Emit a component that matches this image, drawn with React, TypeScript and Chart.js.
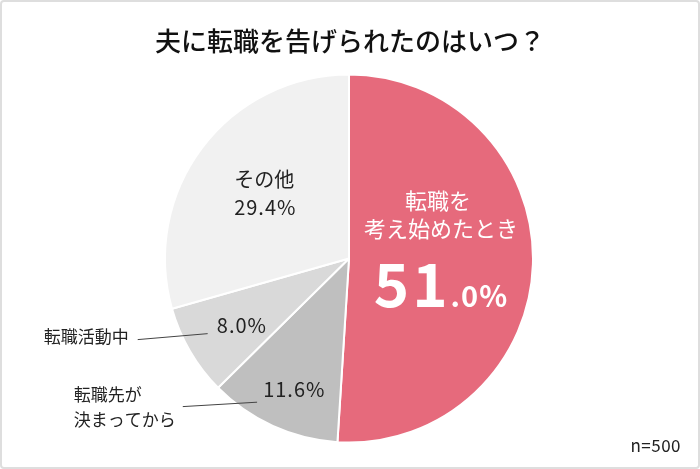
import React, { useEffect, useRef } from "react";
import { Chart, registerables } from "chart.js";

Chart.register(...registerables);

const TITLE = "夫に転職を告げられたのはいつ？";
const CATEGORIES = ["転職を考え始めたとき", "転職先が決まってから", "転職活動中", "その他"];
const VALUES = [51.0, 11.6, 8.0, 29.4];
const COLORS = ["#E66A7C", "#BFBFBF", "#D9D9D9", "#F1F1F1"];
const SAMPLE_NOTE = "n=500";

const FONT = '"Noto Sans CJK JP", "Noto Sans", sans-serif';

const labelPlugin = {
  id: "customLabels",
  afterDatasetsDraw(chart: any) {
    const ctx: CanvasRenderingContext2D = chart.ctx;
    const meta = chart.getDatasetMeta(0);
    const arcs = meta.data;
    if (!arcs.length) return;
    const cx = arcs[0].x;
    const cy = arcs[0].y;
    const R = arcs[0].outerRadius;
    const pt = (angDeg: number, f: number) => {
      const a = (angDeg * Math.PI) / 180;
      return { x: cx + Math.cos(a) * R * f, y: cy + Math.sin(a) * R * f };
    };
    const mid = (i: number) => {
      const a = arcs[i];
      return ((a.startAngle + a.endAngle) / 2) * 180 / Math.PI;
    };
    const pct = (v: number) => v.toFixed(1) + "%";
    const ls = (v: string) => { (ctx as any).letterSpacing = v; };

    ctx.save();
    ctx.textBaseline = "middle";

    // Title
    ctx.fillStyle = "#111";
    ctx.textAlign = "center";
    ctx.font = `500 26px ${FONT}`;
    ctx.fillText(TITLE, 350, 41);

    // Slice 0 (pink)
    {
      const p = pt(mid(0), 0.5);
      ctx.fillStyle = "#fff";
      ctx.textAlign = "center";
      ctx.font = `22px ${FONT}`;
      ctx.fillText("転職を", p.x - 3, p.y - 61);
      ctx.fillText("考え始めたとき", p.x, p.y - 33);
      const str = pct(VALUES[0]);
      const big = str.split(".")[0];
      const small = "." + str.split(".")[1];
      ctx.textBaseline = "alphabetic";
      ls("3px");
      ctx.font = `bold 60px ${FONT}`;
      const wb = ctx.measureText(big).width;
      ls("1px");
      ctx.font = `bold 29px ${FONT}`;
      const ws = ctx.measureText(small).width;
      const x0 = p.x - (wb + ws) / 2;
      ctx.textAlign = "left";
      ls("3px");
      ctx.font = `bold 60px ${FONT}`;
      ctx.fillText(big, x0, p.y + 46);
      ls("1px");
      ctx.font = `bold 29px ${FONT}`;
      ctx.fillText(small, x0 + wb, p.y + 46);
      ls("0px");
      ctx.textBaseline = "middle";
    }

    ctx.fillStyle = "#222";
    ctx.font = `20px ${FONT}`;
    ls("1px");
    ctx.textAlign = "center";
    // Slice 1
    {
      const p = pt(mid(1), 0.77);
      ctx.fillText(pct(VALUES[1]), p.x + 4, p.y + 2);
    }
    // Slice 2
    {
      const p = pt(mid(2), 0.68);
      ctx.fillText(pct(VALUES[2]), p.x + 1, p.y + 4);
    }
    // Slice 3
    {
      const p = pt(mid(3), 0.585);
      ctx.textAlign = "left";
      ls("0px");
      ctx.fillText("その他", p.x - 29, p.y - 14);
      ls("1px");
      ctx.fillText(pct(VALUES[3]), p.x - 29, p.y + 14);
    }
    ls("0px");

    // External labels
    ctx.strokeStyle = "#444";
    ctx.lineWidth = 1;
    ctx.font = `17px ${FONT}`;
    {
      const a = pt(159, 1.23);
      const b = pt(152, 0.87);
      ctx.beginPath();
      ctx.moveTo(a.x, a.y);
      ctx.lineTo(b.x, b.y);
      ctx.stroke();
      ctx.textAlign = "right";
      ctx.fillText(CATEGORIES[2], a.x - 9, a.y - 3);
    }
    {
      const a = pt(138.3, 1.21);
      const b = pt(122.6, 0.927);
      ctx.beginPath();
      ctx.moveTo(a.x, a.y);
      ctx.lineTo(b.x, b.y);
      ctx.stroke();
      ctx.textAlign = "left";
      ctx.fillText("転職先が", a.x - 109, a.y - 12);
      ctx.fillText("決まってから", a.x - 109, a.y + 13);
    }

    // n
    ctx.textAlign = "right";
    ctx.font = `17px ${FONT}`;
    ls("0.5px");
    ctx.fillStyle = "#222";
    ctx.fillText(SAMPLE_NOTE, 681, 446);
    ls("0px");

    ctx.restore();
  },
};

export default function App() {
  const ref = useRef<HTMLCanvasElement | null>(null);
  useEffect(() => {
    document.body.style.margin = "0";
    if (!ref.current) return;
    const chart = new Chart(ref.current, {
      type: "pie",
      data: {
        labels: CATEGORIES,
        datasets: [
          {
            data: VALUES,
            backgroundColor: COLORS,
            borderColor: "#ffffff",
            borderWidth: 2,
          },
        ],
      },
      options: {
        responsive: false,
        animation: false,
        layout: { padding: { top: 73, bottom: 25, left: 164, right: 166 } },
        plugins: {
          legend: { display: false },
          title: { display: false },
          tooltip: { enabled: false },
        },
      },
      plugins: [labelPlugin],
    });
    return () => chart.destroy();
  }, []);
  return (
    <div style={{ position: "absolute", left: 0, top: 0, width: 700, height: 469, background: "#fff" }}>
      <canvas ref={ref} width={700} height={469} style={{ display: "block" }} />
      <div
        style={{
          position: "absolute",
          left: 0,
          top: 0,
          width: 700,
          height: 469,
          boxSizing: "border-box",
          border: "2px solid #dedede",
          borderRadius: 4,
          pointerEvents: "none",
        }}
      />
    </div>
  );
}
